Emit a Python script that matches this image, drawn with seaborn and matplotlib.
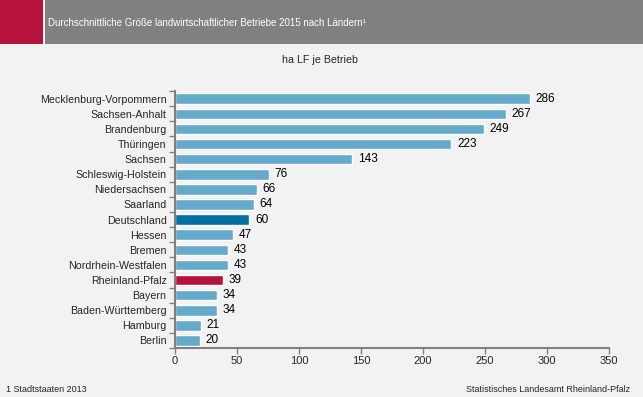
import matplotlib
matplotlib.use("Agg")
import matplotlib.pyplot as plt
import seaborn as sns
import pandas as pd
import numpy as np
from matplotlib.patches import Rectangle

laender = ["Mecklenburg-Vorpommern", "Sachsen-Anhalt", "Brandenburg", "Thüringen", "Sachsen",
           "Schleswig-Holstein", "Niedersachsen", "Saarland", "Deutschland", "Hessen", "Bremen",
           "Nordrhein-Westfalen", "Rheinland-Pfalz", "Bayern", "Baden-Württemberg", "Hamburg", "Berlin"]
werte = [286, 267, 249, 223, 143, 76, 66, 64, 60, 47, 43, 43, 39, 34, 34, 21, 20]
xticks = [0, 50, 100, 150, 200, 250, 300, 350]

sns.set_theme(style="white")
plt.rcParams['font.family'] = ['Liberation Sans', 'DejaVu Sans']

bg = "#f2f2f2"
base = "#66aacb"
colors = {n: base for n in laender}
colors["Deutschland"] = "#0070a0"
colors["Rheinland-Pfalz"] = "#b5123e"

df = pd.DataFrame({"land": laender, "wert": werte})

fig = plt.figure(figsize=(6.43, 3.97), dpi=100, facecolor=bg)
ax = fig.add_axes([0.272, 0.1234, 0.675, 0.647], facecolor=bg)

sns.barplot(data=df, y="land", x="wert", hue="land", palette=colors, legend=False,
            width=0.7, ax=ax, saturation=1)

for i, v in enumerate(werte):
    ax.text(v + 4.5, i, str(v), va="center", ha="left", fontsize=8.5, color="#000000")

ax.set_xlim(0, 350)
ax.set_ylim(len(laender) - 0.5, -0.5)
ax.set_xticks(xticks)
ax.set_xticklabels([str(t) for t in xticks], fontsize=8)
ax.set_yticks(range(len(laender)))
ax.set_yticklabels(laender, fontsize=7.7)
ax.set_yticks(np.arange(-0.5, len(laender), 1), minor=True)
ax.tick_params(axis="y", which="major", length=0, pad=6)
ax.tick_params(axis="y", which="minor", length=4, width=1, color="#808080", direction="out", left=True)
ax.tick_params(axis="x", which="major", length=4, width=1, color="#808080", direction="out", bottom=True, pad=2)
ax.set_xlabel("")
ax.set_ylabel("")
for s in ["top", "right"]:
    ax.spines[s].set_visible(False)
for s in ["left", "bottom"]:
    ax.spines[s].set_color("#808080")
    ax.spines[s].set_linewidth(1.5)

# header
fig.patches.append(Rectangle((0, 1 - 44/397), 43/643, 44/397, transform=fig.transFigure,
                             facecolor="#b5123e", edgecolor="none", zorder=0))
fig.patches.append(Rectangle((45/643, 1 - 44/397), 1, 44/397, transform=fig.transFigure,
                             facecolor="#808080", edgecolor="none", zorder=0))
fig.text(48/643, 1 - 23/397, "Durchschnittliche Größe landwirtschaftlicher Betriebe 2015 nach Ländern¹",
         color="white", fontsize=7, va="center", ha="left")
fig.text(320/643, 1 - 60/397, "ha LF je Betrieb", fontsize=7.7, va="center", ha="center")
fig.text(6/643, 1 - 389/397, "1 Stadtstaaten 2013", fontsize=6.5, va="center", ha="left")
fig.text(630/643, 1 - 389/397, "Statistisches Landesamt Rheinland-Pfalz", fontsize=6.5, va="center", ha="right")

fig.savefig("out.png", dpi=100, facecolor=bg)
